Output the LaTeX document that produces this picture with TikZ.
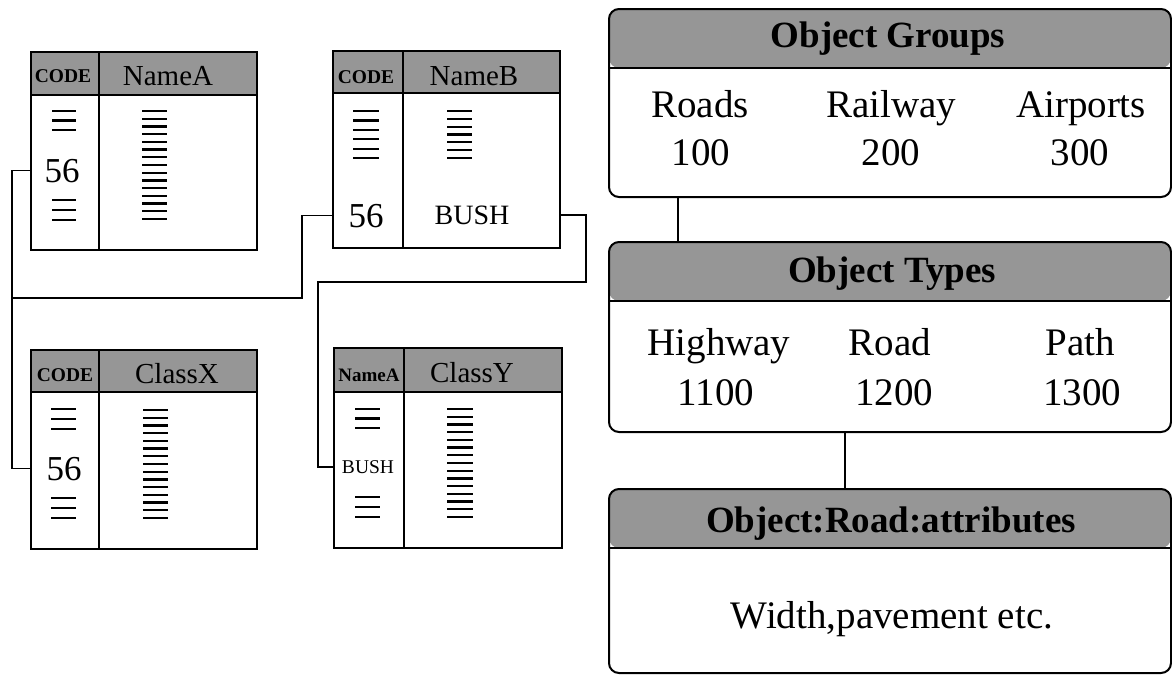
\documentclass[tikz,border=0pt]{standalone}
\usepackage{fontspec}
\setmainfont{Liberation Serif}
\definecolor{headgray}{RGB}{150,150,150}
\tikzset{
  hdr/.style={path picture={\fill[headgray] (path picture bounding box.north west)
      rectangle ([yshift=-#1]path picture bounding box.north east);}},
  tbl/.style={draw, line width=1.8pt, inner sep=0pt, outer sep=0pt},
  rbox/.style={draw, line width=2pt, rounded corners=10pt, inner sep=0pt, outer sep=0pt,
      minimum width=562pt},
  sep/.style={line width=1.8pt},
  link/.style={line width=1.8pt},
  tick/.style={line width=2.2pt},
  body/.style={font=\fontsize{39}{39}\selectfont, anchor=base, inner sep=0pt},
  ttl/.style={font=\fontsize{37}{37}\selectfont\bfseries, anchor=base, inner sep=0pt},
  codeh/.style={font=\fontsize{19.5}{19.5}\selectfont\bfseries, anchor=base, inner sep=0pt},
  colh/.style={font=\fontsize{29}{29}\selectfont, anchor=base, inner sep=0pt},
  num/.style={font=\fontsize{35}{35}\selectfont, anchor=base, inner sep=0pt},
  small/.style={font=\fontsize{28}{28}\selectfont, anchor=base, inner sep=0pt},
  tiny/.style={font=\fontsize{19.5}{19.5}\selectfont, anchor=base, inner sep=0pt},
}
\begin{document}
\begin{tikzpicture}[x=1pt, y=-1pt]
\useasboundingbox (0,0) rectangle (1172,675);

% ---------- code tables ----------
\node[tbl, hdr=43pt, minimum width=226pt, minimum height=198pt] (A) at (144,151) {};
\draw[sep] ([yshift=-43pt]A.north west) -- ([yshift=-43pt]A.north east);
\draw[sep] ([xshift=68pt]A.north west) -- ([xshift=68pt]A.south west);
\node[codeh] (Ac) at (63,82) {CODE};
\node[colh]  (An) at (168,85) {NameA};
\node[num]   (a56) at (62,182) {56};
\foreach \y in {111,120.5,130,200,210,220} \draw[tick] (52,\y) -- (76,\y);
\foreach \i in {0,...,14} \draw[tick] (142,111+\i*7.714) -- (167,111+\i*7.714);

\node[tbl, hdr=42pt, minimum width=227pt, minimum height=197pt] (B) at (446.5,149.5) {};
\draw[sep] ([yshift=-42pt]B.north west) -- ([yshift=-42pt]B.north east);
\draw[sep] ([xshift=70pt]B.north west) -- ([xshift=70pt]B.south west);
\node[codeh] (Bc) at (366,83) {CODE};
\node[colh]  (Bn) at (474,85) {NameB};
\node[num]   (b56) at (366,227) {56};
\node[small] (bbush) at (472,224) {BUSH};
\foreach \i in {0,...,5} \draw[tick] (353,111+\i*9.4) -- (379,111+\i*9.4);
\foreach \i in {0,...,6} \draw[tick] (447,111+\i*7.83) -- (472,111+\i*7.83);

\node[tbl, hdr=42pt, minimum width=226pt, minimum height=199pt] (X) at (144,449.5) {};
\draw[sep] ([yshift=-42pt]X.north west) -- ([yshift=-42pt]X.north east);
\draw[sep] ([xshift=68pt]X.north west) -- ([xshift=68pt]X.south west);
\node[codeh] (Xc) at (65,381) {CODE};
\node[colh]  (Xn) at (177,383) {ClassX};
\node[num]   (x56) at (64,480) {56};
\foreach \y in {409,419,429,498,508,518} \draw[tick] (51,\y) -- (76,\y);
\foreach \i in {0,...,14} \draw[tick] (143,410+\i*7.714) -- (168,410+\i*7.714);

\node[tbl, hdr=44pt, minimum width=228pt, minimum height=200pt] (Y) at (448,448) {};
\draw[sep] ([yshift=-44pt]Y.north west) -- ([yshift=-44pt]Y.north east);
\draw[sep] ([xshift=70pt]Y.north west) -- ([xshift=70pt]Y.south west);
\node[codeh, font=\fontsize{19}{19}\selectfont\bfseries] (Yc) at (369,381) {NameA};
\node[colh]  (Yn) at (472,382) {ClassY};
\node[tiny]  (ybush) at (368,473) {BUSH};
\foreach \y in {409,418.5,428,497,507,517} \draw[tick] (355,\y) -- (380,\y);
\foreach \i in {0,...,14} \draw[tick] (447,409+\i*7.714) -- (473,409+\i*7.714);

% ---------- links between the tables ----------
\coordinate (busL) at (12,0);
\coordinate (jL) at (12,298);
\coordinate (jB) at (302,298);
\coordinate (r1) at (586,282);
\coordinate (r2) at (318,282);
\draw[link] (A.west |- a56) -| (busL |- x56) -- (X.west |- x56);
\draw[link] (B.west |- b56) -| (jB) -- (jL);
\draw[link] (B.east |- bbush) -| (r1) -- (r2) |- (Y.west |- ybush);

% ---------- object hierarchy ----------
\node[rbox, hdr=59pt, minimum height=188pt] (grp) at (890,103) {};
\draw[sep] ([yshift=-59pt]grp.north west) -- ([yshift=-59pt]grp.north east);
\node[ttl] (grpT) at (888,47) {Object Groups};
\node[body] (g1) at (700,117) {Roads};
\node[body] (g2) at (891,117) {Railway};
\node[body] (g3) at (1081,117) {Airports};
\node[body] (g1n) at (701,165) {100};
\node[body] (g2n) at (891,165) {200};
\node[body] (g3n) at (1080,165) {300};

\node[rbox, hdr=59pt, minimum height=190pt] (typ) at (890,337) {};
\draw[sep] ([yshift=-59pt]typ.north west) -- ([yshift=-59pt]typ.north east);
\node[ttl] (typT) at (892,282) {Object Types};
\node[body] (t1) at (719,355) {Highway};
\node[body] (t2) at (890,355) {Road};
\node[body] (t3) at (1080,355) {Path};
\node[body] (t1n) at (716,405) {1100};
\node[body] (t2n) at (894,405) {1200};
\node[body] (t3n) at (1082,405) {1300};

\node[rbox, hdr=59pt, minimum height=184pt] (att) at (890,581) {};
\draw[sep] ([yshift=-59pt]att.north west) -- ([yshift=-59pt]att.north east);
\node[ttl] (attT) at (891,532) {Object:Road:attributes};
\node[body] (attB) at (892,628) {Width,pavement etc.};

\draw[link] ([xshift=69pt]grp.south west) -- ([xshift=69pt]typ.north west);
\draw[link] ([xshift=236pt]typ.south west) -- ([xshift=236pt]att.north west);
\end{tikzpicture}
\end{document}
